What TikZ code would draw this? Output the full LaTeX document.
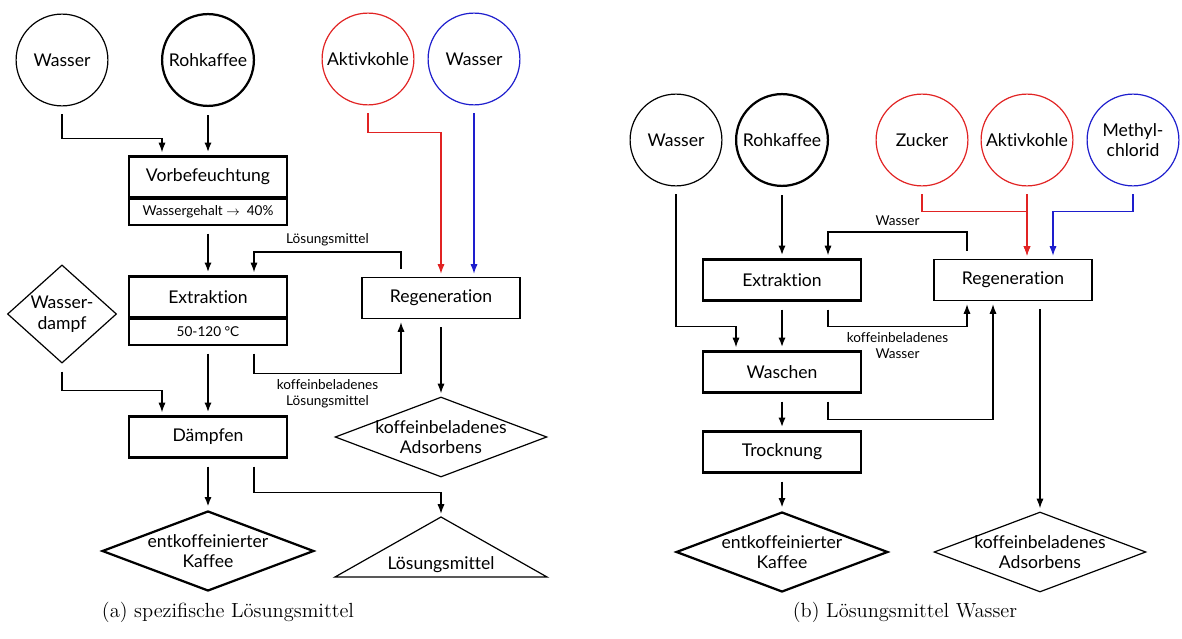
\documentclass[tikz,border=0pt]{standalone}
\usepackage{fontspec}
\setsansfont[Ligatures=NoCommon]{Lato}
\usetikzlibrary{shapes.geometric,calc,positioning,arrows.meta}

\definecolor{kohlerot}{RGB}{225,35,35}
\definecolor{loeseblau}{RGB}{30,30,205}

\tikzset{
  every node/.style={font=\sffamily\fontsize{11}{13}\selectfont},
  duenn/.style={line width=0.75pt},
  dick/.style={line width=1.4pt},
  stoff/.style={draw,duenn,circle,minimum size=2.02cm,inner sep=0pt,align=center},
  rohstoff/.style={stoff,dick},
  schritt/.style={draw,dick,rectangle,minimum width=3.48cm,minimum height=0.9cm},
  hilfsschritt/.style={schritt,duenn},
  info/.style={draw,duenn,rectangle,minimum width=3.48cm,minimum height=0.57cm,
    font=\sffamily\fontsize{8.5}{10}\selectfont},
  produkt/.style={draw,dick,diamond,aspect=2.65,inner sep=-1.5pt,
    minimum width=4.66cm,minimum height=1.76cm,align=center},
  nebenprodukt/.style={produkt,duenn},
  fluss/.style={duenn,-{Latex[length=6pt,width=4.5pt]},shorten <=5pt,shorten >=2pt},
  hauptfluss/.style={dick,-{Latex[length=6pt,width=4.5pt]},shorten <=5pt,shorten >=2pt},
  beschr/.style={font=\sffamily\fontsize{8.5}{10}\selectfont,align=center},
  titel/.style={font=\rmfamily\fontsize{12.8}{15}\selectfont}
}

\begin{document}
\begin{tikzpicture}[x=0.022cm,y=-0.022cm]
  \useasboundingbox (0,0) rectangle (1182,639);

  \node[stoff] (wa1) at (62,60) {Wasser};
  \node[rohstoff] (rk1) at (208,60) {Rohkaffee};
  \node[stoff,draw=kohlerot] (ak1) at (368,59) {Aktivkohle};
  \node[stoff,draw=loeseblau] (ws1) at (474,59) {Wasser};

  \node[schritt] (vor) at (208,177) {Vorbefeuchtung};
  \node[info,below=0pt of vor] (vorsub) {Wassergehalt $\rightarrow$\ \ 40\%};
  \node[schritt] (ext1) at (208,297) {Extraktion};
  \node[info,below=0pt of ext1] (extsub) {50-120 °C};
  \node[hilfsschritt] (reg1) at (441,298) {Regeneration};
  \node[draw,duenn,diamond,aspect=1.1,inner sep=0pt,minimum width=2.4cm,
    minimum height=2.16cm,align=center] (wd) at (62,314) {Wasser-\\dampf};
  \node[schritt] (daempf) at (208,437) {Dämpfen};
  \node[nebenprodukt] (ads1) at (441,437) {koffeinbeladenes\\Adsorbens};
  \node[produkt] (kaffee1) at (208,551) {entkoffeinierter\\Kaffee};
  \coordinate (lsmtop) at (441,517);
  \draw[duenn] (lsmtop) -- (547,577) -- (335,577) -- cycle;
  \node (lsm) at (441,565) {Lösungsmittel};

  \draw[fluss] (wa1.south) -- ++(0,32) -| ($(vor.north)+(-46,0)$);
  \draw[hauptfluss] (rk1) -- (vor);
  \draw[hauptfluss] (vorsub) -- (ext1);
  \draw[fluss] ($(reg1.north)+(-40,0)$) -- ++(0,-25)
    -| node[beschr,above,pos=0.25] {Lösungsmittel} ($(ext1.north)+(46,0)$);
  \draw[fluss,draw=kohlerot] (ak1.south) -- ++(0,27) -| (reg1.north);
  \draw[fluss,draw=loeseblau] (ws1.south) -- (ws1.south |- reg1.north);
  \draw[fluss] ($(extsub.south)+(46,0)$) -- ++(0,28)
    -| node[beschr,below,pos=0.25] {koffeinbeladenes\\Lösungsmittel} ($(reg1.south)+(-40,0)$);
  \draw[hauptfluss] (extsub) -- (daempf);
  \draw[fluss] (wd.south) -- ++(0,27) -| ($(daempf.north)+(-46,0)$);
  \draw[fluss] (reg1) -- (ads1);
  \draw[fluss] ($(daempf.south)+(46,0)$) -- ++(0,34) -| (lsmtop);
  \draw[hauptfluss] (daempf) -- (kaffee1);

  \node[stoff] (wa2) at (676,140) {Wasser};
  \node[rohstoff] (rk2) at (782,140) {Rohkaffee};
  \node[stoff,draw=kohlerot] (zu) at (922,140) {Zucker};
  \node[stoff,draw=kohlerot] (ak2) at (1027,140) {Aktivkohle};
  \node[stoff,draw=loeseblau] (mc) at (1133,140) {Methyl-\\chlorid};

  \node[schritt] (ext2) at (782,280) {Extraktion};
  \node[hilfsschritt] (reg2) at (1013,280) {Regeneration};
  \node[schritt] (wasch) at (782,372) {Waschen};
  \node[schritt] (trock) at (782,452) {Trocknung};
  \node[produkt] (kaffee2) at (782,552) {entkoffeinierter\\Kaffee};
  \node[nebenprodukt] (ads2) at (1040,552) {koffeinbeladenes\\Adsorbens};

  \draw[fluss] (wa2.south) -- ++(0,140) -| ($(wasch.north)+(-46,0)$);
  \draw[hauptfluss] (rk2) -- (ext2);
  \draw[fluss] ($(reg2.north)+(-46,0)$) -- ++(0,-27)
    -| node[beschr,above,pos=0.25] {Wasser} ($(ext2.north)+(46,0)$);
  \draw[fluss,draw=kohlerot] (zu.south) -- ++(0,25) -| (ak2.south |- reg2.north);
  \draw[fluss,draw=kohlerot] (ak2.south) -- (ak2.south |- reg2.north);
  \draw[fluss,draw=loeseblau] (mc.south) -- ++(0,25) -| ($(reg2.north)+(40,0)$);
  \draw[fluss] ($(ext2.south)+(46,0)$) -- ++(0,25)
    -| node[beschr,below,pos=0.25] {koffeinbeladenes\\Wasser} ($(reg2.south)+(-46,0)$);
  \draw[hauptfluss] (ext2) -- (wasch);
  \draw[fluss] ($(wasch.south)+(46,0)$) -- ++(0,26) -| ($(reg2.south)+(-20,0)$);
  \draw[hauptfluss] (wasch) -- (trock);
  \draw[hauptfluss] (trock) -- (kaffee2);
  \draw[fluss] (reg2.south -| ads2.north) -- (ads2.north);

  \node[titel] (capa) at (228,612) {(a) spezifische Lösungsmittel};
  \node[titel] (capb) at (905,612) {(b) Lösungsmittel Wasser};
\end{tikzpicture}
\end{document}
